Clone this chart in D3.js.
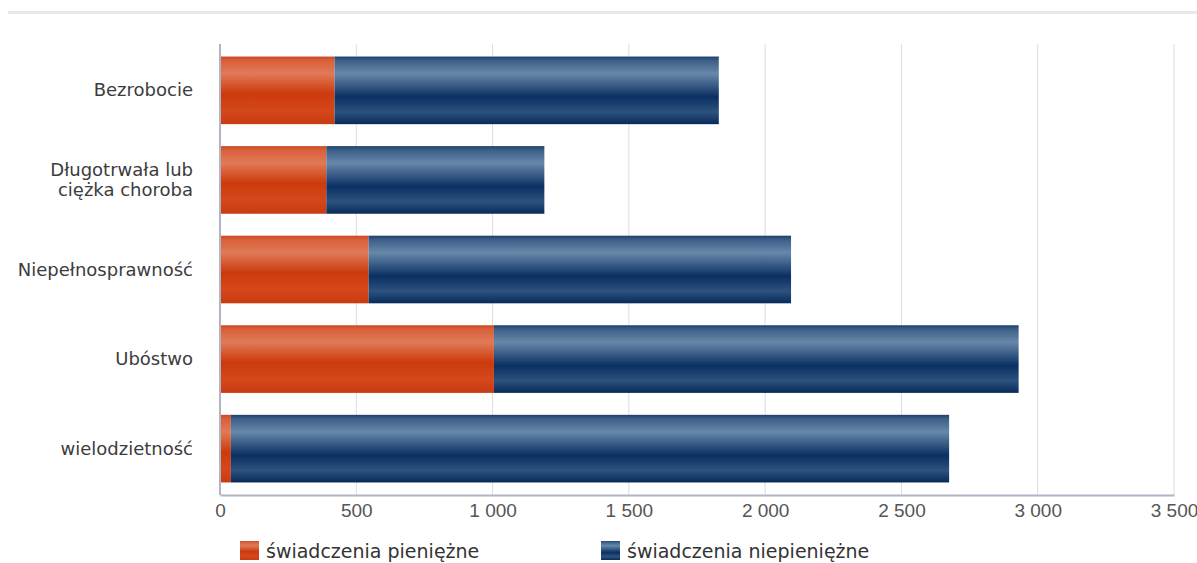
<!DOCTYPE html>
<html>
<head>
<meta charset="utf-8">
<script src="https://cdn.jsdelivr.net/npm/d3@7/dist/d3.min.js"></script>
<style>
  body { margin: 0; background: #fff; }
  svg { display: block; font-family: "DejaVu Sans", Verdana, sans-serif; }
</style>
</head>
<body>
<div id="runApp"></div>
<script>
const width = 1197;
const height = 563;

const categories = ["Bezrobocie", "Długotrwała lub ciężka choroba", "Niepełnosprawność", "Ubóstwo", "wielodzietność"];
const categoryLines = [["Bezrobocie"], ["Długotrwała lub", "ciężka choroba"], ["Niepełnosprawność"], ["Ubóstwo"], ["wielodzietność"]];
const pieniezne = [420, 390, 545, 1005, 40];
const niepieniezne = [1410, 800, 1550, 1925, 2635];
const seriesNames = ["świadczenia pieniężne", "świadczenia niepieniężne"];
const xTicks = [0, 500, 1000, 1500, 2000, 2500, 3000, 3500];

const margin = { top: 44, right: 23, bottom: 68, left: 220 };

const svg = d3.select("#runApp").append("svg")
  .attr("width", width)
  .attr("height", height);

// gradients for the glossy bars
const defs = svg.append("defs");
function gradient(id, stops) {
  const g = defs.append("linearGradient").attr("id", id)
    .attr("x1", 0).attr("y1", 0).attr("x2", 0).attr("y2", 1);
  stops.forEach(([o, c]) => g.append("stop").attr("offset", o).attr("stop-color", c));
}
gradient("gRed", [[0, "#c94a22"], [0.06, "#d9603a"], [0.25, "#e07a58"], [0.55, "#cc3a0c"], [0.8, "#d4481c"], [1, "#c83a10"]]);
gradient("gBlue", [[0, "#1e3f6a"], [0.06, "#3c5f88"], [0.25, "#6888aa"], [0.6, "#0a2f62"], [0.82, "#2d527e"], [1, "#082a5a"]]);

// top rule
svg.append("rect").attr("x", 8).attr("y", 11).attr("width", width - 8).attr("height", 3).attr("fill", "#e8e8e8");

const x = d3.scaleLinear().domain([0, 3500]).range([margin.left, width - margin.right]);
const y = d3.scaleBand().domain(categories).range([margin.top, height - margin.bottom]).paddingInner(0.245).paddingOuter(0.14);

// grid
svg.append("g")
  .selectAll("line")
  .data(xTicks.slice(1))
  .join("line")
  .attr("x1", d => x(d)).attr("x2", d => x(d))
  .attr("y1", margin.top).attr("y2", height - margin.bottom)
  .attr("stroke", "#dcdce2").attr("stroke-width", 1);

// stacked bars
const rows = categories.map((c, i) => ({ c, a: pieniezne[i], b: niepieniezne[i] }));
const bars = svg.append("g");
bars.selectAll("rect.a").data(rows).join("rect")
  .attr("class", "a")
  .attr("x", d => x(0)).attr("y", d => y(d.c))
  .attr("width", d => x(d.a) - x(0)).attr("height", y.bandwidth())
  .attr("fill", "url(#gRed)");
bars.selectAll("rect.b").data(rows).join("rect")
  .attr("class", "b")
  .attr("x", d => x(d.a)).attr("y", d => y(d.c))
  .attr("width", d => x(d.a + d.b) - x(d.a)).attr("height", y.bandwidth())
  .attr("fill", "url(#gBlue)");

// axes
const xAxis = svg.append("g")
  .attr("transform", `translate(0,${height - margin.bottom})`)
  .call(d3.axisBottom(x).tickValues(xTicks).tickSize(0).tickPadding(9)
    .tickFormat(d => d3.format(",")(d).replace(",", " ")));
xAxis.select(".domain").attr("stroke", "#b0b4c4").attr("stroke-width", 2);
xAxis.selectAll("text").attr("font-size", 19).attr("fill", "#555");

svg.append("line")
  .attr("x1", x(0)).attr("x2", x(0))
  .attr("y1", margin.top).attr("y2", height - margin.bottom)
  .attr("stroke", "#b0b4c4").attr("stroke-width", 2);

// category labels
const labels = svg.append("g");
rows.forEach((d, i) => {
  const lines = categoryLines[i];
  const cy = y(d.c) + y.bandwidth() / 2;
  const t = labels.append("text")
    .attr("text-anchor", "end")
    .attr("font-size", 18)
    .attr("fill", "#3c3c3c");
  lines.forEach((l, j) => {
    t.append("tspan")
      .attr("x", 193)
      .attr("y", cy + (j - (lines.length - 1) / 2) * 20 + 6)
      .text(l);
  });
});

// legend
const legend = svg.append("g");
const legendX = [240, 601];
const legendFill = ["url(#gRed)", "url(#gBlue)"];
seriesNames.forEach((s, i) => {
  legend.append("rect")
    .attr("x", legendX[i]).attr("y", 541)
    .attr("width", 19).attr("height", 19)
    .attr("fill", legendFill[i]);
  legend.append("text")
    .attr("x", legendX[i] + 26).attr("y", 558)
    .attr("font-size", 19).attr("fill", "#333")
    .text(s);
});
</script>
</body>
</html>
